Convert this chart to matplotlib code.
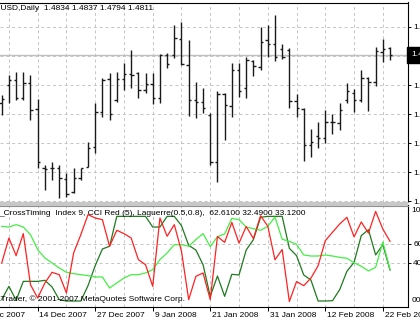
import numpy as np
import matplotlib
matplotlib.use('Agg')
from matplotlib import pyplot as plt
from matplotlib.patches import Rectangle
from matplotlib.transforms import blended_transform_factory

# daily EURUSD bars, 7 Dec 2007 .. 25 Feb 2008
opens = [1.4644, 1.4708, 1.4725, 1.4662, 1.4715, 1.4625, 1.4422, 1.4420, 1.4420, 1.4383,
         1.4340, 1.4386, 1.4426, 1.4495, 1.4615, 1.4728, 1.4656, 1.4728, 1.4744, 1.4748,
         1.4690, 1.4711, 1.4664, 1.4811, 1.4811, 1.4865, 1.4777, 1.4656, 1.4650, 1.4604,
         1.4441, 1.4675, 1.4636, 1.4759, 1.4696, 1.4790, 1.4771, 1.4863, 1.4848, 1.4832,
         1.4828, 1.4653, 1.4625, 1.4501, 1.4533, 1.4524, 1.4581, 1.4575, 1.4656, 1.4679,
         1.4656, 1.4733, 1.4717, 1.4822, 1.4834]
highs = [1.4673, 1.4742, 1.4753, 1.4753, 1.4742, 1.4658, 1.4432, 1.4443, 1.4432, 1.4403,
         1.4420, 1.4422, 1.4512, 1.4644, 1.4731, 1.4748, 1.4753, 1.4782, 1.4828, 1.4753,
         1.4748, 1.4748, 1.4813, 1.4817, 1.4915, 1.4924, 1.4863, 1.4719, 1.4696, 1.4610,
         1.4687, 1.4679, 1.4782, 1.4782, 1.4805, 1.4794, 1.4909, 1.4915, 1.4949, 1.4848,
         1.4834, 1.4675, 1.4627, 1.4556, 1.4581, 1.4621, 1.4606, 1.4644, 1.4713, 1.4694,
         1.4759, 1.4736, 1.4840, 1.4866, 1.4837]
lows = [1.4604, 1.4644, 1.4656, 1.4656, 1.4587, 1.4420, 1.4345, 1.4380, 1.4317, 1.4322,
        1.4334, 1.4380, 1.4426, 1.4472, 1.4598, 1.4587, 1.4650, 1.4690, 1.4698, 1.4662,
        1.4679, 1.4642, 1.4644, 1.4765, 1.4800, 1.4777, 1.4601, 1.4593, 1.4610, 1.4432,
        1.4374, 1.4518, 1.4598, 1.4667, 1.4664, 1.4740, 1.4759, 1.4805, 1.4790, 1.4797,
        1.4627, 1.4598, 1.4445, 1.4460, 1.4489, 1.4506, 1.4537, 1.4552, 1.4646, 1.4615,
        1.4650, 1.4618, 1.4705, 1.4788, 1.4794]
closes = [1.4658, 1.4725, 1.4662, 1.4713, 1.4621, 1.4443, 1.4418, 1.4421, 1.4386, 1.4330,
          1.4386, 1.4420, 1.4489, 1.4615, 1.4725, 1.4606, 1.4728, 1.4744, 1.4742, 1.4690,
          1.4710, 1.4662, 1.4811, 1.4779, 1.4869, 1.4779, 1.4656, 1.4650, 1.4627, 1.4441,
          1.4675, 1.4639, 1.4759, 1.4687, 1.4794, 1.4773, 1.4855, 1.4848, 1.4805, 1.4803,
          1.4653, 1.4627, 1.4501, 1.4512, 1.4524, 1.4581, 1.4579, 1.4621, 1.4687, 1.4656,
          1.4733, 1.4717, 1.4825, 1.4831, 1.4811]

# indicator window
cci_red = [39.9, 66.1, 47.6, 70.7, 17.1, 3.1, 18.9, 30.1, 27.6, 8.4,
           50.4, 69.6, 90.6, 87.1, 85.3, 57.4, 74.2, 70.7, 66.1, 43.4,
           38.1, 15.4, 87.1, 67.9, 80.1, 52.1, 1.4, 25.9, 29.4, 1.4,
           67.7, 61.5, 82.5, 60.7, 78.2, 65.5, 89.5, 78.5, 43.2, 54.0,
           -0.5, 20.4, 16.1, 24.0, 37.0, 63.3, 72.1, 80.8, 87.8, 67.3,
           82.9, 71.2, 94.0, 75.5, 62.61]
laguerre = [78.3, 77.6, 80.1, 77.6, 69.6, 53.9, 45.1, 39.9, 34.6, 30.1,
            28.7, 27.6, 26.6, 25.2, 25.2, 13.6, 18.9, 24.1, 27.6, 27.6,
            29.4, 32.9, 43.4, 50.4, 59.1, 59.1, 57.4, 64.4, 70.7, 57.0,
            67.5, 70.3, 86.7, 85.3, 77.6, 75.9, 74.2, 78.3, 88.1, 64.8,
            62.6, 59.5, 48.3, 47.2, 47.2, 48.3, 47.2, 45.8, 44.8, 40.2,
            36.4, 31.5, 35.3, 61.9, 33.12]
cross_idx = [1.4, 15.4, 0.7, 20.6, 20.6, 20.6, 21.7, 14.7, 1.4, 0.0,
             0.0, 0.0, 16.1, 37.1, 54.6, 57.4, 88.8, 88.8, 88.8, 88.8,
             88.8, 77.6, 77.6, 88.8, 88.8, 79.0, 58.4, 53.5, 38.1, 4.9,
             26.2, 4.9, 28.0, 27.3, 53.5, 64.4, 87.8, 88.8, 88.8, 88.8,
             55.3, 47.6, 27.3, 22.0, 0.0, 0.0, 0.3, 11.9, 31.1, 40.6,
             68.6, 74.8, 48.3, 59.1, 32.49]

date_pos = [-3, 5, 13, 21, 29, 37, 45, 53]
date_labels = ['4 Dec 2007', '14 Dec 2007', '27 Dec 2007', '9 Jan 2008',
               '21 Jan 2008', '31 Jan 2008', '12 Feb 2008', '22 Feb 2008']
price_ticks = [1.4307, 1.4407, 1.4507, 1.4607, 1.4707, 1.4808, 1.4908]

W, H = 420, 323
plt.rcParams['font.family'] = ['Liberation Sans', 'DejaVu Sans']
plt.rcParams['font.size'] = 6


def fx(px):
    return px / W


def fy(py):
    return 1 - py / H


def main():
    fig = plt.figure(figsize=(W / 100, H / 100), dpi=100, facecolor='white')
    ax = fig.add_axes([0, fy(202), fx(408), (202 - 2.5) / H])
    ax2 = fig.add_axes([0, fy(307), fx(408), (307 - 205.5) / H])
    grid_kw = dict(color='#c4c4c4', linestyle=(0, (3, 3)), linewidth=0.7)
    x = np.arange(len(closes))
    bar_col = '#1a1a1a'

    # price bars
    ax.vlines(x, lows, highs, color=bar_col, lw=1.0)
    ax.hlines(opens, x - 0.33, x, color=bar_col, lw=1.0)
    ax.hlines(closes, x, x + 0.33, color=bar_col, lw=1.0)
    ax.axhline(closes[-1], color='#c0c0c0', lw=1.0, zorder=0.5)
    ax.set_xlim(-0.24, 56.5)
    ax.set_ylim(1.4304, 1.4992)
    ax.set_xticks(np.arange(1, 56, 4))
    ax.tick_params(axis='x', length=0, labelbottom=False)
    ax.set_yticks(price_ticks)
    ax.set_yticklabels(['' if abs(p - closes[-1]) < 0.0005 else '%.4f' % p
                        for p in price_ticks])
    ax.yaxis.tick_right()
    ax.tick_params(axis='y', length=2.2, pad=1.5, labelsize=6, width=0.7)
    ax.grid(True, **grid_kw)
    ax.set_axisbelow(True)
    ax.spines['left'].set_visible(False)
    ax.spines['bottom'].set_color('#909090')
    for s in ('top', 'right'):
        ax.spines[s].set_linewidth(0.8)
    fig.text(fx(411), fy(55), '%.4f' % closes[-1], color='white', fontsize=6,
             va='center', ha='left',
             bbox=dict(facecolor='black', edgecolor='black', pad=0.5, boxstyle='square'))
    fig.text(fx(-17), fy(9), 'EURUSD,Daily  %.4f %.4f %.4f %.4f'
             % (opens[-1], highs[-1], lows[-1], closes[-1]), fontsize=6, va='center')

    # separator between windows
    fig.patches.append(Rectangle((0, fy(205.5)), fx(408), 3.5 / H,
                                 transform=fig.transFigure, facecolor='#c8c8c8',
                                 edgecolor='none'))

    # indicator window
    ax2.plot(x, cross_idx, color='#1f7a1f', lw=0.9)
    ax2.plot(x, laguerre, color='#44ee44', lw=0.9)
    ax2.plot(x, cci_red, color='#ff2222', lw=0.9)
    ax2.set_xlim(-0.24, 56.5)
    ax2.set_ylim(-6.3, 100.2)
    ax2.set_xticks([p for p in date_pos if p >= 0])
    ax2.set_xticks(np.arange(1, 56, 8), minor=True)
    ax2.tick_params(axis='x', which='major', length=3, width=0.7, labelbottom=False)
    ax2.tick_params(axis='x', which='minor', length=0)
    ax2.set_yticks([40, 60])
    ax2.set_yticklabels(['40', '60'])
    ax2.yaxis.tick_right()
    ax2.tick_params(axis='y', length=2.2, pad=1.5, labelsize=6, width=0.7)
    ax2.grid(True, which='both', **grid_kw)
    ax2.set_axisbelow(True)
    ax2.spines['left'].set_visible(False)
    ax2.spines['top'].set_color('#909090')
    for s in ('bottom', 'right'):
        ax2.spines[s].set_linewidth(0.8)
    fig.text(fx(411.5), fy(211), '100', fontsize=6, va='center')
    fig.text(fx(411.5), fy(300), '00', fontsize=6, va='center')
    fig.text(fx(-1), fy(213.5), '_CrossTiming  Index 9, CCI Red (5), Laguerre(0.5,0.8),  '
             '%.4f %.4f %.4f' % (cci_red[-1], cross_idx[-1], laguerre[-1]),
             fontsize=6, va='center')
    fig.text(fx(-18), fy(299.5), 'MetaTrader, \u00a9 2001-2007 MetaQuotes Software Corp.',
             fontsize=6, va='center')

    tr = blended_transform_factory(ax2.transData, fig.transFigure)
    for p, lab in zip(date_pos, date_labels):
        ax2.text(p + 0.25, fy(315.5), lab, transform=tr, fontsize=6,
                 va='center', ha='left', clip_on=False)

    fig.savefig('out.png', dpi=100, facecolor='white')


if __name__ == "__main__":
    main()
